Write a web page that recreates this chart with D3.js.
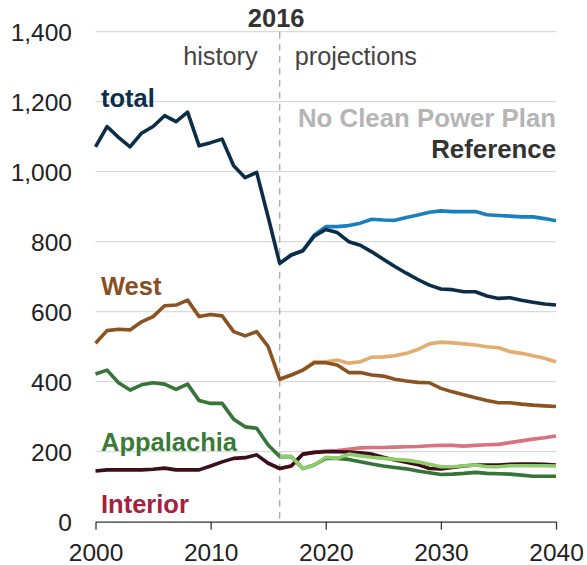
<!DOCTYPE html>
<html>
<head>
<meta charset="utf-8">
<script src="https://cdn.jsdelivr.net/npm/d3@7"></script>
<style>
  html, body { margin: 0; padding: 0; background: #fff; }
  svg { display: block; font-family: "Liberation Sans", Arial, sans-serif; }
</style>
</head>
<body>
<svg id="chart" width="587" height="565"></svg>
<script>
// Coal production by region (million short tons)
const histYears = d3.range(2000, 2017);
const projYears = d3.range(2016, 2041);

const totalHist = [1071,1129,1098,1071,1110,1129,1160,1143,1170,1074,1083,1093,1017,983,998,870,738];
const totalRef = [738,762,774,816,835,826,800,790,771,750,729,710,692,676,665,663,657,657,645,638,640,633,627,622,619];
const totalNoCpp = [738,762,774,819,843,843,846,853,864,862,861,869,876,884,888,886,886,886,877,875,873,871,871,866,860];

const westHist = [510,546,550,548,571,586,617,619,633,586,592,588,543,531,543,500,407];
const westRef = [407,419,433,454,454,448,426,426,419,416,407,402,398,397,381,371,363,354,346,340,340,336,333,331,329];
const westNoCpp = [407,419,433,457,457,462,453,457,470,471,474,481,492,508,513,511,508,505,500,497,486,481,474,467,457];

const appHist = [422,433,397,376,391,397,393,378,393,346,338,338,293,271,267,219,186];
const appRef = [186,186,152,162,181,181,178,171,165,159,155,151,145,140,135,136,138,141,138,137,136,133,130,130,130];
const appNoCpp = [186,186,152,162,184,181,193,188,184,181,178,176,171,164,157,157,160,162,157,157,160,160,160,160,159];

const intHist = [145,148,148,148,148,150,153,148,148,148,159,171,181,183,191,167,152];
const intRef = [152,159,193,198,200,200,199,197,193,184,176,170,163,152,151,155,159,162,162,162,164,165,165,164,162];
const intNoCpp = [152,159,193,198,202,203,207,211,212,212,213,214,215,217,218,218,216,218,220,221,226,231,236,240,245];

const yTicks = [0,200,400,600,800,1000,1200,1400];
const xTicks = [2000,2010,2020,2030,2040];

const svg = d3.select("#chart");
const x = d3.scaleLinear().domain([2000, 2040]).range([95.5, 556]);
const y = d3.scaleLinear().domain([0, 1400]).range([521.7, 31.7]);

// horizontal gridlines
svg.append("g").selectAll("line")
  .data(yTicks.filter(v => v > 0))
  .join("line")
  .attr("x1", x(2000)).attr("x2", x(2040))
  .attr("y1", d => y(d)).attr("y2", d => y(d))
  .attr("stroke", "#d9d9d9").attr("stroke-width", 1.3);

// y tick labels
svg.append("g").selectAll("text")
  .data(yTicks)
  .join("text")
  .attr("x", 72).attr("y", d => y(d))
  .attr("dy", "0.36em")
  .attr("text-anchor", "end")
  .attr("font-size", 24.5)
  .attr("fill", "#222")
  .text(d => d3.format(",")(d));

// x axis
const xAxis = d3.axisBottom(x).tickValues(xTicks).tickFormat(d3.format("d")).tickSize(8).tickSizeOuter(0);
const gx = svg.append("g").attr("transform", `translate(0,${y(0)})`).call(xAxis);
gx.select(".domain").attr("stroke", "#333").attr("stroke-width", 1.3);
gx.selectAll(".tick line").attr("stroke", "#333").attr("stroke-width", 1.3);
gx.selectAll(".tick text").attr("font-size", 24.5).attr("fill", "#222")
  .attr("font-family", "Liberation Sans, Arial, sans-serif").attr("y", 22).attr("dy", "0.71em");

// 2016 divider
svg.append("line")
  .attr("x1", x(2016)).attr("x2", x(2016))
  .attr("y1", y(1400)).attr("y2", y(0))
  .attr("stroke", "#aaa").attr("stroke-width", 1.3)
  .attr("stroke-dasharray", "7,5");

svg.append("text").attr("x", x(2016) - 3.5).attr("y", 26.5)
  .attr("text-anchor", "middle").attr("font-size", 25.5).attr("font-weight", "bold")
  .attr("fill", "#333").text("2016");
svg.append("text").attr("x", x(2016) - 22).attr("y", 65)
  .attr("text-anchor", "end").attr("font-size", 25.3).attr("fill", "#444").text("history");
svg.append("text").attr("x", x(2016) + 15).attr("y", 65)
  .attr("text-anchor", "start").attr("font-size", 25.3).attr("fill", "#444").text("projections");

svg.append("text").attr("x", x(2040)).attr("y", 127)
  .attr("text-anchor", "end").attr("font-size", 25.8).attr("font-weight", "bold")
  .attr("fill", "#b5b5b5").text("No Clean Power Plan");
svg.append("text").attr("x", x(2040)).attr("y", 157.5)
  .attr("text-anchor", "end").attr("font-size", 25.8).attr("font-weight", "bold")
  .attr("fill", "#333").text("Reference");

const line = d3.line().x(d => x(d[0])).y(d => y(d[1]));
const pairs = (years, vals) => years.map((yr, i) => [yr, vals[i]]);

function drawLine(years, vals, color) {
  svg.append("path")
    .datum(pairs(years, vals))
    .attr("d", line)
    .attr("fill", "none")
    .attr("stroke", color)
    .attr("stroke-width", 3.6)
    .attr("stroke-linejoin", "round")
    .attr("stroke-linecap", "butt");
}

const histPlusRef = (h, r) => h.concat(r.slice(1));
const allYears = d3.range(2000, 2041);

// total
drawLine(projYears, totalNoCpp, "#1a7fc1");
drawLine(allYears, histPlusRef(totalHist, totalRef), "#0c2d48");
// West
drawLine(projYears, westNoCpp, "#e3ad70");
drawLine(allYears, histPlusRef(westHist, westRef), "#8c5322");
// Interior
drawLine(projYears, intNoCpp, "#d9717f");
drawLine(allYears, histPlusRef(intHist, intRef), "#3b0f18");
// Appalachia
drawLine(allYears, histPlusRef(appHist, appRef), "#367438");
drawLine(projYears, appNoCpp, "#8fcc6b");

// region labels
const labels = [
  { text: "total", yv: y(1200) + 5.5, color: "#0d2f4a" },
  { text: "West", yv: 295, color: "#8a4f1f" },
  { text: "Appalachia", yv: 451, color: "#3a7b37" },
  { text: "Interior", yv: 513, color: "#a6213d" }
];
svg.append("g").selectAll("text")
  .data(labels)
  .join("text")
  .attr("x", 101).attr("y", d => d.yv)
  .attr("font-size", 25.5).attr("font-weight", "bold")
  .attr("fill", d => d.color)
  .text(d => d.text);
</script>
</body>
</html>
